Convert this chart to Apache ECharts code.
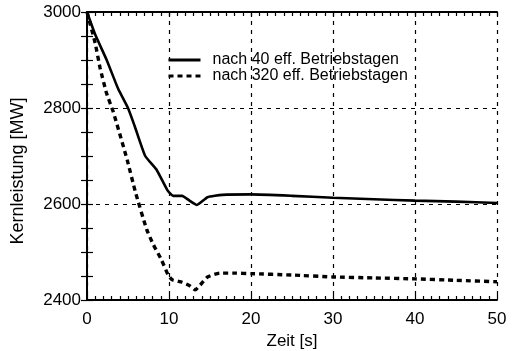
<!DOCTYPE html>
<html>
<head>
<meta charset="utf-8">
<script src="https://cdn.jsdelivr.net/npm/echarts@6/dist/echarts.min.js"></script>
<style>
  html, body { margin: 0; padding: 0; background: #fff; }
  #chart { width: 516px; height: 351px; }
</style>
</head>
<body>
<div id="chart"></div>
<script>
// Core power after a transient, for two burn-up states
const seriesNames = ['nach 40 eff. Betriebstagen', 'nach 320 eff. Betriebstagen'];

const time40 = [0, 1, 2.4, 3.8, 5, 5.8, 7.1, 8.5, 9.8, 10.5, 11.6, 12.5, 13.4, 14.7, 16.5, 20, 25, 30, 35, 40, 45, 50];
const power40 = [3000, 2953, 2900, 2840, 2800, 2763, 2700, 2671, 2629, 2617, 2617, 2607, 2598, 2614, 2619, 2620, 2617, 2613, 2610, 2607, 2605, 2602];

const time320 = [0, 1, 1.6, 2.4, 3.2, 4.9, 5.9, 7.3, 8.1, 9.1, 9.9, 10.4, 11.6, 12.5, 13.2, 13.8, 14.7, 16.2, 18, 20, 25, 30, 35, 40, 45, 50];
const power320 = [3000, 2935, 2883, 2830, 2792, 2692, 2625, 2546, 2515, 2483, 2452, 2442, 2437, 2430, 2421, 2431, 2448, 2456, 2456, 2455, 2452, 2448, 2446, 2444, 2441, 2438];

const xTicks = [0, 10, 20, 30, 40, 50];
const yTicks = [2400, 2600, 2800, 3000];

const pair = (xs, ys) => xs.map((x, i) => [x, ys[i]]);

const font = 'Liberation Sans';
const axisLineStyle = { color: '#000', width: 2 };
const gridLine = { show: true, lineStyle: { color: '#000', type: [4, 5], width: 1.2 } };
const tickStyle = { color: '#000', width: 1.2 };

const chart = echarts.init(document.getElementById('chart'));
chart.setOption({
  animation: false,
  backgroundColor: '#fff',
  grid: { left: 87, right: 19, top: 12, bottom: 51, outerBoundsMode: 'none', containLabel: false },
  legend: {
    left: 162, top: 47,
    orient: 'vertical',
    itemWidth: 32, itemHeight: 12, itemGap: 0,
    itemStyle: { opacity: 0 },
    lineStyle: { width: 3 },
    textStyle: { fontFamily: font, fontSize: 16, color: '#000', padding: [0, 0, 0, 7] },
    data: seriesNames
  },
  xAxis: [
    {
      type: 'value', min: 0, max: 50, interval: 10,
      name: 'Zeit [s]', nameLocation: 'middle', nameGap: 31,
      nameTextStyle: { fontFamily: font, fontSize: 17, color: '#000' },
      axisLine: { show: true, lineStyle: axisLineStyle },
      axisTick: { show: true, inside: true, length: 5, lineStyle: tickStyle },
      minorTick: { show: true, splitNumber: 10, length: 4, lineStyle: tickStyle },
      axisLabel: { fontFamily: font, fontSize: 17, color: '#000', margin: 11,
        formatter: v => xTicks.includes(v) ? String(v) : '' },
      splitLine: gridLine
    },
    {
      type: 'value', min: 0, max: 50, interval: 10, position: 'top',
      axisLine: { show: true, lineStyle: axisLineStyle },
      axisTick: { show: true, inside: true, length: 5, lineStyle: tickStyle },
      minorTick: { show: true, splitNumber: 10, length: 4, lineStyle: tickStyle },
      axisLabel: { show: false },
      splitLine: { show: false }
    }
  ],
  yAxis: [
    {
      type: 'value', min: 2400, max: 3000, interval: 200,
      name: 'Kernleistung [MW]', nameLocation: 'middle', nameGap: 60, nameRotate: 90,
      nameTextStyle: { fontFamily: font, fontSize: 18, color: '#000', padding: [0, 30, 0, 0] },
      axisLine: { show: true, lineStyle: axisLineStyle },
      axisTick: { show: true, inside: true, length: 6, lineStyle: tickStyle },
      minorTick: { show: true, splitNumber: 4, length: 6, lineStyle: tickStyle },
      axisLabel: { fontFamily: font, fontSize: 17, color: '#000', margin: 6,
        formatter: v => yTicks.includes(v) ? String(v) : '' },
      splitLine: gridLine
    },
    {
      type: 'value', min: 2400, max: 3000, interval: 200, position: 'right',
      axisLine: { show: true, lineStyle: axisLineStyle },
      axisTick: { show: true, inside: true, length: 6, lineStyle: tickStyle },
      minorTick: { show: true, splitNumber: 4, length: 6, lineStyle: tickStyle },
      axisLabel: { show: false },
      splitLine: { show: false }
    }
  ],
  series: [
    {
      name: seriesNames[0], type: 'line', smooth: 0.15, symbol: 'none',
      data: pair(time40, power40),
      lineStyle: { color: '#000', width: 2.6 },
      itemStyle: { color: '#000' }
    },
    {
      name: seriesNames[1], type: 'line', smooth: 0.15, symbol: 'none',
      data: pair(time320, power320),
      lineStyle: { color: '#000', width: 3.4, type: [5, 4] },
      itemStyle: { color: '#000' }
    }
  ]
});
</script>
</body>
</html>
